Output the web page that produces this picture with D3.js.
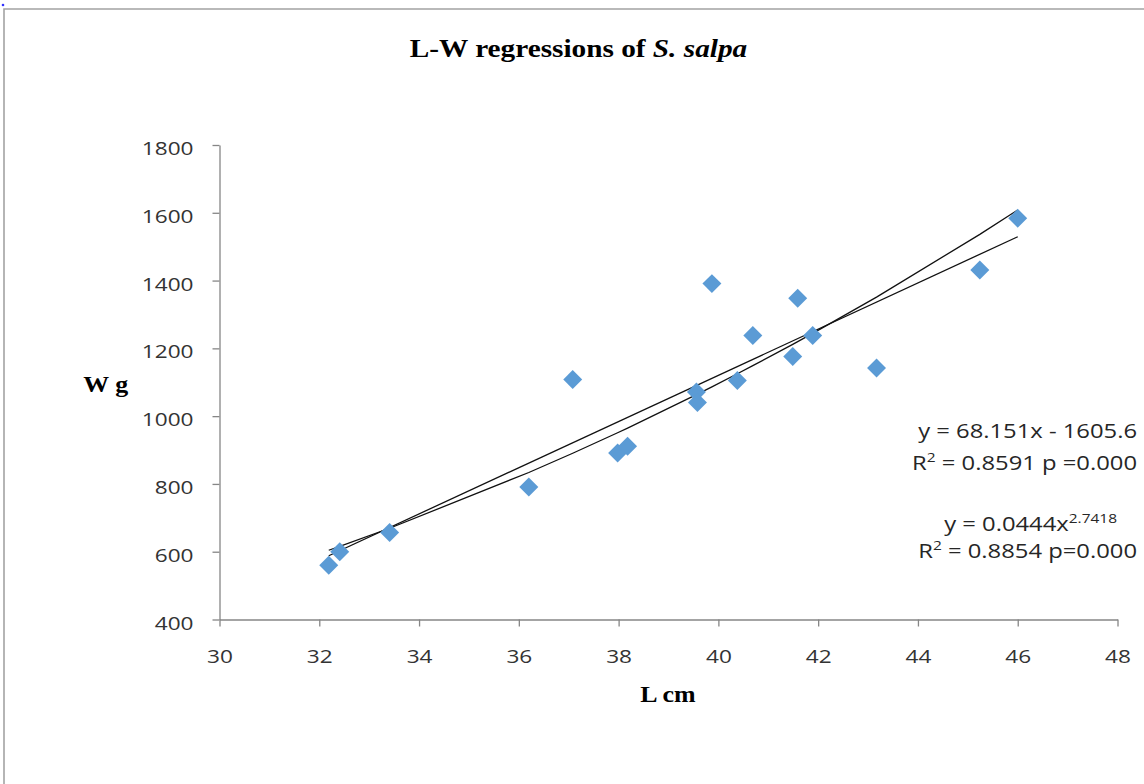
<!DOCTYPE html>
<html>
<head>
<meta charset="utf-8">
<script src="https://cdn.jsdelivr.net/npm/d3@7"></script>
<style>
  html, body { margin: 0; padding: 0; background: #fff; }
  svg { display: block; }
</style>
</head>
<body>
<svg id="chart" width="1144" height="784"></svg>
<script>
// ---- Data ----
const lengthCm = [32.19, 32.41, 33.41, 36.2, 37.08, 37.98, 38.18, 39.56, 39.58, 39.87, 40.38, 40.69, 41.49, 41.59, 41.89, 43.17, 45.24, 46.0];
const weightG  = [560, 600, 657, 791, 1108, 891, 911, 1071, 1040, 1391, 1105, 1238, 1176, 1348, 1238, 1142, 1431, 1584];
const xTicks = [30, 32, 34, 36, 38, 40, 42, 44, 46, 48];
const yTicks = [400, 600, 800, 1000, 1200, 1400, 1600, 1800];
const linearFit = { slope: 68.151, intercept: -1605.6 };
const powerFit = { a: 0.0444, b: 2.7418 };
const titleMain = "L-W regressions of ";
const titleItalic = "S. salpa";
const xTitle = "L cm";
const yTitle = "W g";

// ---- Layout ----
const svg = d3.select("#chart");
const SX = 1.19;        // horizontal stretch of sans text
const sansFont = "'Open Sans', sans-serif";
const serifFont = "'Liberation Serif', 'Times New Roman', serif";

const x = d3.scaleLinear().domain([30, 48]).range([219.5, 1117.5]);
const y = d3.scaleLinear().domain([400, 1800]).range([619.5, 145]);

svg.append("rect").attr("width", 1144).attr("height", 784).attr("fill", "#fff");

// outer frame
svg.append("path").attr("d", "M4,784V9H1144")
  .attr("fill", "none").attr("stroke", "#a3a3a3").attr("stroke-width", 1.6);
svg.append("circle").attr("cx", 3).attr("cy", 5).attr("r", 1.3).attr("fill", "#3333ff");

// axes
const axisColor = "#868686";
const gx = svg.append("g").attr("transform", `translate(0,${y(400)})`)
  .call(d3.axisBottom(x).tickValues(xTicks).tickSize(7).tickSizeOuter(0).tickFormat(d3.format("d")));
const gy = svg.append("g").attr("transform", `translate(${x(30)},0)`)
  .call(d3.axisLeft(y).tickValues(yTicks).tickSize(7).tickSizeOuter(0).tickFormat(d3.format("d")));

[gx, gy].forEach(g => {
  g.select(".domain").attr("stroke", axisColor).attr("stroke-width", 1.3);
  g.selectAll(".tick line").attr("stroke", axisColor).attr("stroke-width", 1.3);
  g.selectAll(".tick text").attr("fill", "#333").style("font-family", sansFont).style("font-size", "19px");
});
gx.selectAll(".tick text").attr("y", 43.5).attr("dy", 0)
  .attr("transform", `scale(${SX},1)`);
gy.selectAll(".tick text").attr("x", -26 / SX).attr("dy", "0.5em")
  .attr("transform", `scale(${SX},1)`);

// trendlines
const sortedL = Array.from(new Set(lengthCm)).sort((a, b) => a - b);
const lMin = d3.min(lengthCm), lMax = d3.max(lengthCm);
const lineGen = d3.line().x(d => x(d[0])).y(d => y(d[1]));
svg.append("path")
  .attr("d", lineGen([lMin, lMax].map(l => [l, linearFit.slope * l + linearFit.intercept])))
  .attr("fill", "none").attr("stroke", "#111").attr("stroke-width", 1.3);
svg.append("path")
  .attr("d", lineGen(sortedL.map(l => [l, powerFit.a * Math.pow(l, powerFit.b)])))
  .attr("fill", "none").attr("stroke", "#111").attr("stroke-width", 1.3);

// points
const diamond = d3.symbol().type(d3.symbolSquare).size(180);
svg.append("g").selectAll("path")
  .data(lengthCm.map((l, i) => [l, weightG[i]]))
  .join("path")
  .attr("d", diamond)
  .attr("transform", d => `translate(${x(d[0])},${y(d[1])}) rotate(45)`)
  .attr("fill", "#5B9BD5");

// text helper
function stretchedText(px, py, anchor, sx) {
  return svg.append("g").attr("transform", `translate(${px},${py}) scale(${sx},1)`)
    .append("text").attr("text-anchor", anchor);
}

// title
const t = stretchedText(578.5, 57, "middle", 1.126)
  .style("font-family", serifFont).style("font-size", "26px").style("font-weight", "bold").attr("fill", "#000");
t.append("tspan").text(titleMain);
t.append("tspan").style("font-style", "italic").text(titleItalic);

// axis titles
stretchedText(83.3, 391.7, "start", 1.08)
  .style("font-family", serifFont).style("font-size", "24px").style("font-weight", "bold").attr("fill", "#000")
  .text(yTitle);
stretchedText(668, 701.7, "middle", 1.08)
  .style("font-family", serifFont).style("font-size", "24px").style("font-weight", "bold").attr("fill", "#000")
  .text(xTitle);

// equations
function eqText(px, py) {
  return stretchedText(px, py, "end", SX)
    .style("font-family", sansFont).style("font-size", "20px").attr("fill", "#262626");
}
eqText(1137, 438).text(`y = ${linearFit.slope}x - ${Math.abs(linearFit.intercept)}`);

const e2 = eqText(1137, 470);
e2.append("tspan").text("R");
e2.append("tspan").attr("dy", -8).style("font-size", "13px").text("2");
e2.append("tspan").attr("dy", 8).text(" = 0.8591 p =0.000");

const e3 = eqText(1117, 531);
e3.append("tspan").text(`y = ${powerFit.a}x`);
e3.append("tspan").attr("dy", -8).style("font-size", "13px").text(String(powerFit.b));

const e4 = eqText(1137, 558);
e4.append("tspan").text("R");
e4.append("tspan").attr("dy", -8).style("font-size", "13px").text("2");
e4.append("tspan").attr("dy", 8).text(" = 0.8854 p=0.000");
</script>
</body>
</html>
